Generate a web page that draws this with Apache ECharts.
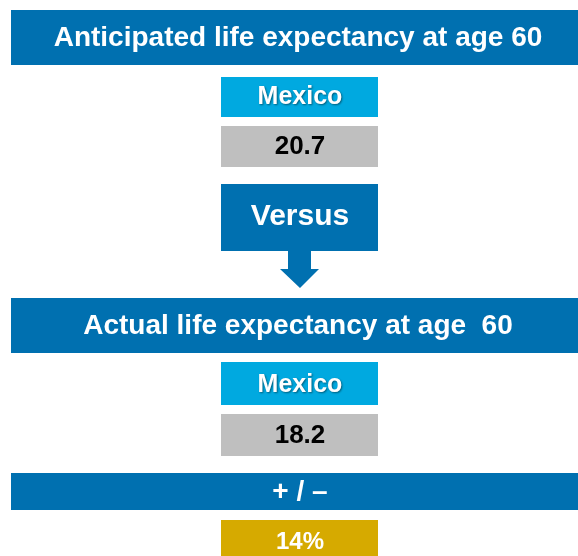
<!DOCTYPE html>
<html>
<head>
<meta charset="utf-8">
<script src="https://cdn.jsdelivr.net/npm/echarts@6/dist/echarts.min.js"></script>
<style>
  html, body { margin: 0; padding: 0; background: #fff; }
  #chart { width: 578px; height: 556px; }
</style>
</head>
<body>
<div id="chart"></div>
<script>
// data
var headings = ['Anticipated life expectancy at age 60', 'Actual life expectancy at age  60'];
var countries = ['Mexico'];
var anticipated = [20.7];
var actual = [18.2];
var diffTitle = '+ / \u2013';
var diffPct = [14];

var BLUE = '#0070b0';
var CYAN = '#00a9e0';
var GREY = '#bfbfbf';
var GOLD = '#d6aa00';
var FONT = '"Liberation Sans", Arial, sans-serif';

function box(x, y, w, h, color) {
  return { type: 'rect', shape: { x: x, y: y, width: w, height: h }, style: { fill: color } };
}
function label(txt, x, y, size, color, shadow) {
  var st = {
    text: txt, x: x, y: y, fill: color,
    font: 'bold ' + size + 'px ' + FONT,
    textAlign: 'center', textVerticalAlign: 'middle'
  };
  if (shadow) {
    st.textShadowColor = 'rgba(0,0,0,0.45)';
    st.textShadowBlur = 2;
    st.textShadowOffsetX = 1;
    st.textShadowOffsetY = 1;
  }
  return { type: 'text', style: st, z: 10 };
}

var cx = 300;
var elements = [
  // top banner
  box(11, 10, 567, 55, BLUE),
  label(headings[0], 298, 38, 28, '#fff'),
  box(221, 77, 157, 40, CYAN),
  label(countries[0], cx, 97, 25, '#fff', true),
  box(221, 126, 157, 41, GREY),
  label(anticipated[0].toFixed(1), cx, 147, 26, '#000'),
  // versus callout
  {
    type: 'polygon',
    shape: { points: [[221, 184], [378, 184], [378, 251], [311, 251], [311, 269], [319, 269],
      [300, 288], [280, 269], [288, 269], [288, 251], [221, 251]] },
    style: { fill: BLUE }
  },
  label('Versus', cx, 217, 30, '#fff'),
  // second banner
  box(11, 298, 567, 55, BLUE),
  label(headings[1], 298, 326, 28, '#fff'),
  box(221, 362, 157, 43, CYAN),
  label(countries[0], cx, 385, 25, '#fff', true),
  box(221, 414, 157, 42, GREY),
  label(actual[0].toFixed(1), cx, 436, 26, '#000'),
  // difference
  box(11, 473, 567, 37, BLUE),
  label(diffTitle, cx, 492, 28, '#fff'),
  box(221, 520, 157, 40, GOLD),
  label(diffPct[0] + '%', cx, 542, 24, '#fff')
];

var chart = echarts.init(document.getElementById('chart'));
chart.setOption({
  backgroundColor: '#fff',
  animation: false,
  graphic: { elements: elements }
});
</script>
</body>
</html>
